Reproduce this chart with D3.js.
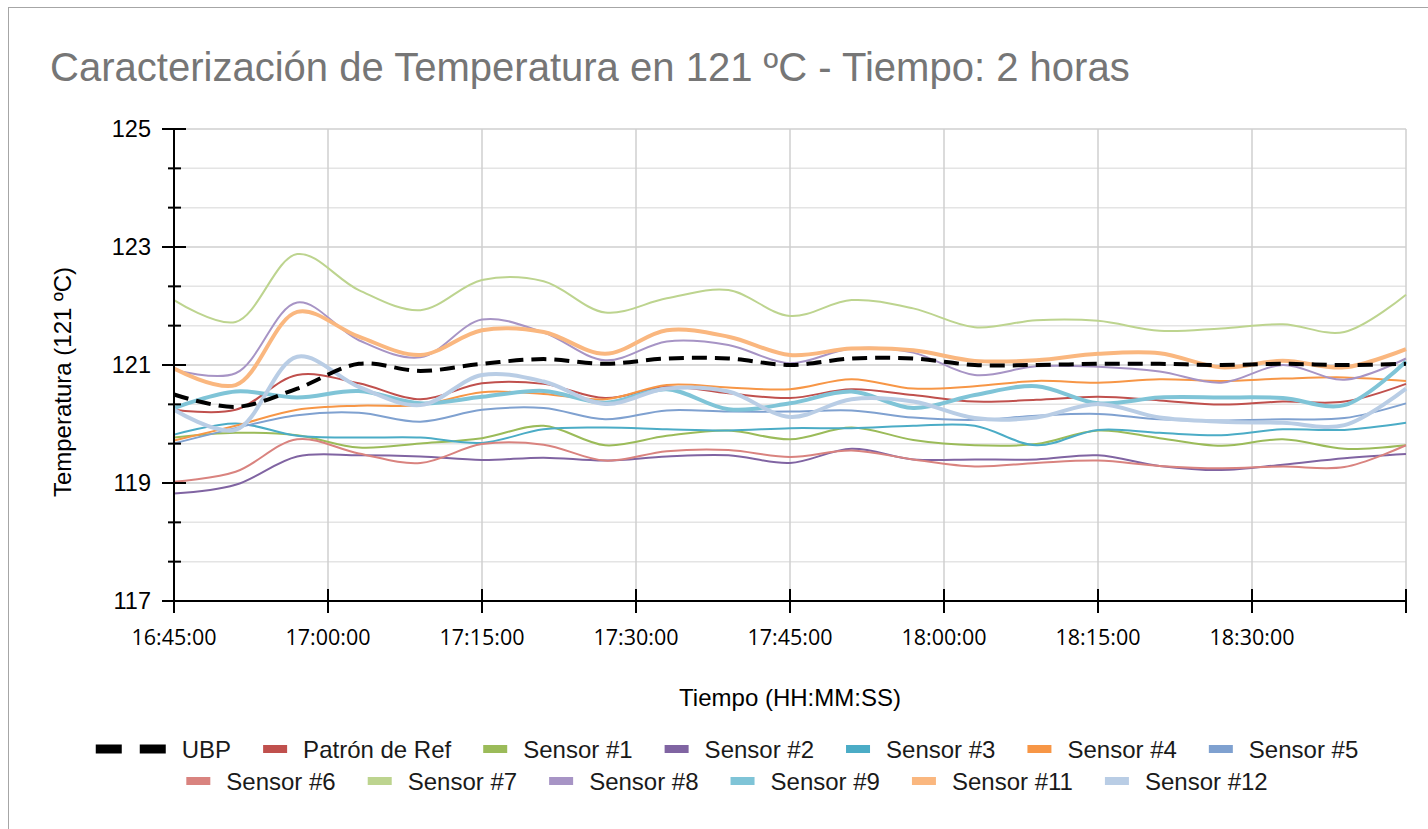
<!DOCTYPE html>
<html>
<head>
<meta charset="utf-8">
<script src="https://cdn.jsdelivr.net/npm/d3@7"></script>
<style>
  html, body { margin: 0; padding: 0; background: #ffffff; }
  svg { display: block; }
</style>
</head>
<body>
<svg id="chart" width="1428" height="829"></svg>
<script>
// ---------------- DATA ----------------
const times = ["16:45","16:51","16:57","17:03","17:09","17:15","17:21","17:27","17:33","17:39","17:45",
               "17:51","17:57","18:03","18:09","18:15","18:21","18:27","18:33","18:39","18:45"];
const xTickTimes = ["16:45","17:00","17:15","17:30","17:45","18:00","18:15","18:30","18:45"];
const xTickLabels = ["16:45:00","17:00:00","17:15:00","17:30:00","17:45:00","18:00:00","18:15:00","18:30:00",""];
const yTicksMajor = [117, 119, 121, 123, 125];
const yTicksMinor = [117.667, 118.333, 119.667, 120.333, 121.667, 122.333, 123.667, 124.333];

const seriesNames = ["UBP","Patrón de Ref","Sensor #1","Sensor #2","Sensor #3","Sensor #4","Sensor #5",
                     "Sensor #6","Sensor #7","Sensor #8","Sensor #9","Sensor #11","Sensor #12"];

const ubp      = [120.50,120.29,120.60,121.02,120.90,121.02,121.10,121.02,121.11,121.11,121.00,121.11,121.11,121.00,121.00,121.02,121.02,121.00,121.02,121.00,121.02];
const patron   = [120.24,120.24,120.83,120.69,120.42,120.69,120.68,120.44,120.63,120.52,120.44,120.59,120.49,120.38,120.41,120.46,120.40,120.33,120.38,120.38,120.68];
const sensor1  = [119.77,119.85,119.81,119.60,119.67,119.76,119.97,119.64,119.80,119.89,119.74,119.94,119.73,119.64,119.66,119.89,119.76,119.63,119.74,119.58,119.64];
const sensor2  = [118.82,118.97,119.45,119.47,119.45,119.39,119.43,119.38,119.45,119.47,119.34,119.58,119.40,119.40,119.40,119.47,119.29,119.22,119.31,119.42,119.49];
const sensor3  = [119.82,120.01,119.80,119.77,119.77,119.68,119.91,119.94,119.91,119.89,119.93,119.93,119.97,119.97,119.64,119.90,119.85,119.81,119.91,119.90,120.02];
const sensor4  = [119.72,119.97,120.24,120.31,120.32,120.54,120.51,120.42,120.66,120.62,120.59,120.76,120.60,120.64,120.73,120.70,120.76,120.73,120.77,120.79,120.73];
const sensor5  = [119.67,119.93,120.15,120.19,120.04,120.24,120.27,120.08,120.23,120.21,120.21,120.23,120.11,120.07,120.14,120.17,120.08,120.06,120.08,120.10,120.35];
const sensor6  = [119.02,119.19,119.74,119.50,119.34,119.66,119.65,119.38,119.54,119.56,119.44,119.55,119.40,119.28,119.34,119.38,119.29,119.25,119.28,119.27,119.64];
const sensor7  = [122.10,121.73,122.88,122.27,121.93,122.44,122.42,121.89,122.13,122.27,121.83,122.10,121.96,121.64,121.76,121.75,121.58,121.62,121.69,121.56,122.19];
const sensor8  = [120.92,120.86,122.06,121.42,121.13,121.77,121.55,121.08,121.40,121.34,121.03,121.28,121.21,120.83,120.98,120.97,120.89,120.70,121.00,120.75,121.11];
const sensor9  = [120.27,120.55,120.45,120.56,120.35,120.46,120.56,120.36,120.59,120.25,120.35,120.55,120.27,120.49,120.64,120.35,120.45,120.45,120.44,120.32,121.06];
const sensor11 = [120.94,120.66,121.90,121.48,121.17,121.59,121.56,121.19,121.59,121.48,121.17,121.28,121.25,121.07,121.08,121.19,121.20,120.96,121.07,120.96,121.27];
const sensor12 = [120.24,119.90,121.14,120.63,120.32,120.83,120.72,120.34,120.60,120.55,120.12,120.42,120.38,120.10,120.11,120.34,120.11,120.04,120.02,119.98,120.60];

const seriesValues = [ubp, patron, sensor1, sensor2, sensor3, sensor4, sensor5,
                      sensor6, sensor7, sensor8, sensor9, sensor11, sensor12];

// ---------------- STYLE ----------------
const colors = ["#000000","#c0504d","#9bbb59","#8064a2","#4bacc6","#f79646","#7fa1d0",
                "#d9837f","#bdd48f","#a794c5","#7fc4d7","#fab77f","#b9cde5"];
const widths = [4, 2, 2, 2, 2, 2, 2, 2, 2, 2, 4, 4, 4];

// ---------------- LAYOUT ----------------
const svg = d3.select("#chart");
const parse = d3.timeParse("%H:%M");
const L = 174, R = 1406, T = 129, B = 601;

const x = d3.scaleTime().domain([parse("16:45"), parse("18:45")]).range([L, R]);
const y = d3.scaleLinear().domain([117, 125]).range([B, T]);

// outer border
svg.append("rect").attr("x", 8.5).attr("y", 7.5).attr("width", 1500).attr("height", 900)
  .attr("fill", "none").attr("stroke", "#a6a6a6").attr("stroke-width", 1);

// title
const title = svg.append("text").attr("x", 50).attr("y", 81)
  .attr("font-family", "Liberation Sans, Arial, sans-serif").attr("font-size", 38)
  .attr("fill", "#767676")
  .text("Caracterización de Temperatura en 121 ºC - Tiempo: 2 horas");
{
  const w = title.node().getComputedTextLength();
  title.attr("font-size", 38 * 1080 / w);
}

// gridlines
const grid = svg.append("g");
grid.selectAll("line.minor").data(yTicksMinor).join("line")
  .attr("x1", L).attr("x2", R).attr("y1", d => y(d)).attr("y2", d => y(d))
  .attr("stroke", "#e4e4e4").attr("stroke-width", 1.5);
grid.selectAll("line.major").data(yTicksMajor.filter(d => d !== 117)).join("line")
  .attr("x1", L).attr("x2", R).attr("y1", d => y(d)).attr("y2", d => y(d))
  .attr("stroke", "#cfcfcf").attr("stroke-width", 1.5);
grid.selectAll("line.vert").data(xTickTimes.slice(1)).join("line")
  .attr("x1", d => x(parse(d))).attr("x2", d => x(parse(d))).attr("y1", T).attr("y2", B)
  .attr("stroke", "#cfcfcf").attr("stroke-width", 1.5);

// series
const line = d3.line().x((d, i) => x(parse(times[i]))).y(d => y(d)).curve(d3.curveCatmullRom.alpha(0.5));
const order = [1,2,3,4,5,6,7,8,9,10,11,12,0];
const lines = svg.append("g");
order.forEach(k => {
  lines.append("path").datum(seriesValues[k])
    .attr("d", line).attr("fill", "none")
    .attr("stroke", colors[k]).attr("stroke-width", widths[k])
    .attr("stroke-linejoin", "round")
    .attr("stroke-dasharray", k === 0 ? "15,8" : null);
});

// axes
const axes = svg.append("g").attr("stroke", "#000").attr("stroke-width", 2);
axes.append("line").attr("x1", L).attr("x2", L).attr("y1", T).attr("y2", B + 1);
axes.append("line").attr("x1", L - 1).attr("x2", R + 1).attr("y1", B).attr("y2", B);
axes.selectAll("line.ymaj").data(yTicksMajor).join("line")
  .attr("x1", L - 12).attr("x2", L + 12).attr("y1", d => y(d)).attr("y2", d => y(d));
axes.selectAll("line.ymin").data(yTicksMinor).join("line")
  .attr("x1", L - 6).attr("x2", L + 7).attr("y1", d => y(d)).attr("y2", d => y(d));
axes.selectAll("line.xt").data(xTickTimes).join("line")
  .attr("x1", d => x(parse(d))).attr("x2", d => x(parse(d))).attr("y1", B - 12).attr("y2", B + 12);

// tick labels
svg.append("g").selectAll("text").data(yTicksMajor).join("text")
  .attr("x", 151).attr("y", d => y(d)).attr("dy", "0.36em")
  .attr("text-anchor", "end")
  .attr("font-family", "Liberation Sans, Arial, sans-serif").attr("font-size", 23.5)
  .attr("fill", "#000").text(d => d);

svg.append("g").selectAll("text").data(xTickTimes).join("text")
  .attr("x", d => x(parse(d))).attr("y", 645)
  .attr("text-anchor", "middle")
  .attr("font-family", "Open Sans, sans-serif").attr("font-size", 21.5)
  .attr("fill", "#000").text((d, i) => xTickLabels[i]);

// axis titles
svg.append("text").attr("transform", "translate(71,382) rotate(-90)")
  .attr("text-anchor", "middle")
  .attr("font-family", "Liberation Sans, Arial, sans-serif").attr("font-size", 24)
  .attr("fill", "#000").text("Temperatura (121 ºC)");
svg.append("text").attr("x", 790).attr("y", 706)
  .attr("text-anchor", "middle")
  .attr("font-family", "Liberation Sans, Arial, sans-serif").attr("font-size", 24)
  .attr("fill", "#000").text("Tiempo (HH:MM:SS)");

// legend
const rows = [[0,1,2,3,4,5,6],[7,8,9,10,11,12]];
const rowY = [749, 781];
const legend = svg.append("g");
rows.forEach((row, ri) => {
  const items = row.map(k => {
    const g = legend.append("g");
    const sw = k === 0 ? 70 : 24;
    if (k === 0) {
      g.append("rect").attr("x", 0).attr("y", -4.5).attr("width", 26).attr("height", 9).attr("fill", "#000");
      g.append("rect").attr("x", 44).attr("y", -4.5).attr("width", 26).attr("height", 9).attr("fill", "#000");
    } else {
      g.append("rect").attr("x", 0).attr("y", -4).attr("width", sw).attr("height", 8).attr("fill", colors[k]);
    }
    const t = g.append("text").attr("x", sw + 16).attr("dy", "0.36em")
      .attr("font-family", "Liberation Sans, Arial, sans-serif").attr("font-size", 24)
      .attr("fill", "#1a1a1a").text(seriesNames[k]);
    return { g, w: sw + 16 + t.node().getComputedTextLength() };
  });
  const gap = 32;
  const total = d3.sum(items, d => d.w) + gap * (items.length - 1);
  let cx = 727 - total / 2;
  items.forEach(it => {
    it.g.attr("transform", `translate(${cx},${rowY[ri]})`);
    cx += it.w + gap;
  });
});
</script>
</body>
</html>
